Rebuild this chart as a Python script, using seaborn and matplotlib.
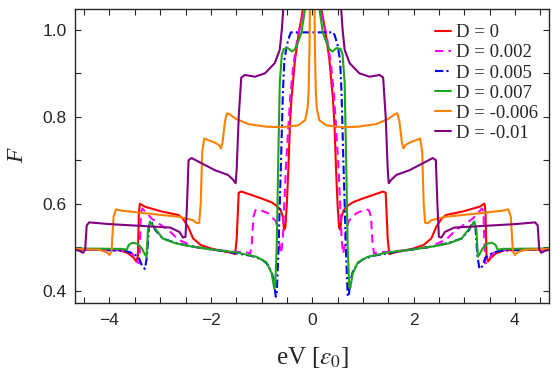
import matplotlib
matplotlib.use("Agg")
import matplotlib.pyplot as plt
import seaborn as sns
import pandas as pd
from matplotlib.ticker import MultipleLocator

sns.set_style("ticks")
plt.rcParams["font.family"] = ["Liberation Sans", "DejaVu Sans"]
plt.rcParams["mathtext.fontset"] = "stix"

# -------------------------------------------------------------
# Data: eV >= 0 half of each curve
# (the curves are mirror symmetric about eV = 0)
# -------------------------------------------------------------
red_x = [0, 0.18, 0.28, 0.34, 0.41, 0.44, 0.47, 0.50, 0.53, 0.555, 0.58, 0.62, 0.7, 0.8, 1.0,
         1.2, 1.40, 1.45, 1.49, 1.52, 1.6, 1.8, 2.0, 2.2, 2.35, 2.45, 2.55, 2.64, 2.97, 3.30,
         3.40, 3.42, 3.44, 3.47, 3.52, 3.63, 3.8, 4.7]
red_y = [1.40, 1.05, 0.98, 0.93, 0.84, 0.78, 0.68, 0.60, 0.545, 0.54, 0.57, 0.585, 0.595, 0.603,
         0.612, 0.62, 0.628, 0.625, 0.52, 0.484, 0.487, 0.492, 0.497, 0.505, 0.52, 0.547, 0.565,
         0.574, 0.582, 0.593, 0.60, 0.58, 0.48, 0.467, 0.475, 0.486, 0.493, 0.495]

mag_x = [0, 0.15, 0.28, 0.37, 0.43, 0.48, 0.52, 0.55, 0.58, 0.61, 0.64, 0.67, 0.72, 0.87, 1.06,
         1.12, 1.16, 1.19, 1.22, 1.3, 1.6, 2.0, 2.3, 2.64, 2.84, 3.0, 3.17, 3.35, 3.38, 3.41,
         3.45, 3.55, 3.7, 4.7]
mag_y = [1.40, 1.05, 0.99, 0.92, 0.85, 0.76, 0.68, 0.60, 0.52, 0.485, 0.50, 0.54, 0.56, 0.578,
         0.587, 0.585, 0.57, 0.51, 0.486, 0.488, 0.49, 0.495, 0.50, 0.517, 0.54, 0.552, 0.566,
         0.589, 0.58, 0.463, 0.465, 0.485, 0.493, 0.495]

blue_x = [0, 0.42, 0.45, 0.50, 0.55, 0.58, 0.61, 0.64, 0.67, 0.70, 0.72, 0.75, 0.8, 0.9, 1.0,
          1.2, 1.6, 2.0, 2.4, 2.7, 2.95, 3.1, 3.17, 3.22, 3.26, 3.30, 3.35, 3.43, 3.55, 3.7, 4.7]
blue_y = [0.994, 0.994, 0.985, 0.965, 0.93, 0.85, 0.72, 0.60, 0.48, 0.39, 0.386, 0.42, 0.443,
          0.463, 0.472, 0.48, 0.488, 0.495, 0.502, 0.51, 0.52, 0.54, 0.558, 0.55, 0.48, 0.45,
          0.455, 0.478, 0.486, 0.492, 0.495]

green_x = [0, 0.14, 0.21, 0.28, 0.34, 0.40, 0.48, 0.56, 0.60, 0.64, 0.67, 0.70, 0.73, 0.75, 0.8,
           0.9, 1.1, 1.5, 2.0, 2.4, 2.7, 2.95, 3.1, 3.2, 3.24, 3.27, 3.31, 3.36, 3.45, 3.55,
           3.62, 3.66, 3.75, 4.7]
green_y = [1.40, 1.05, 0.994, 0.971, 0.955, 0.950, 0.958, 0.956, 0.943, 0.878, 0.70, 0.50, 0.41,
           0.405, 0.44, 0.465, 0.478, 0.488, 0.495, 0.502, 0.509, 0.52, 0.543, 0.559, 0.54,
           0.478, 0.485, 0.497, 0.508, 0.51, 0.505, 0.494, 0.496, 0.497]

orange_x = [0, 0.045, 0.055, 0.07, 0.09, 0.14, 0.28, 0.6, 0.9, 1.26, 1.52, 1.62, 1.68, 1.72,
            1.77, 1.80, 1.84, 1.95, 2.05, 2.13, 2.17, 2.20, 2.23, 2.28, 2.35, 2.64, 3.3, 3.76,
            3.87, 3.92, 3.96, 4.0, 4.05, 4.2, 4.7]
orange_y = [1.40, 1.05, 0.95, 0.86, 0.82, 0.792, 0.78, 0.776, 0.777, 0.783, 0.796, 0.805, 0.808,
            0.79, 0.74, 0.727, 0.735, 0.742, 0.746, 0.75, 0.72, 0.60, 0.556, 0.555, 0.562, 0.57,
            0.578, 0.584, 0.587, 0.57, 0.49, 0.482, 0.488, 0.494, 0.496]

purple_x = [0, 0.5, 0.57, 0.6, 0.64, 0.74, 0.93, 1.13, 1.33, 1.40, 1.45, 1.49, 1.51, 1.56, 1.66,
            1.92, 2.25, 2.38, 2.44, 2.47, 2.50, 2.55, 2.62, 2.8, 3.4, 4.0, 4.40, 4.45, 4.48,
            4.52, 4.6, 4.7]
purple_y = [1.40, 1.20, 1.05, 1.0, 0.954, 0.923, 0.90, 0.892, 0.896, 0.89, 0.80, 0.68, 0.647,
            0.655, 0.666, 0.677, 0.697, 0.705, 0.70, 0.60, 0.524, 0.522, 0.535, 0.545, 0.549,
            0.553, 0.557, 0.55, 0.495, 0.487, 0.492, 0.494]

labels = ["D = 0", "D = 0.002", "D = 0.005", "D = 0.007", "D = -0.006", "D = -0.01"]
halves = [(red_x, red_y), (mag_x, mag_y), (blue_x, blue_y),
          (green_x, green_y), (orange_x, orange_y), (purple_x, purple_y)]
colors = ["#ff0000", "#ff00ff", "#0000ff", "#1ea51e", "#ff8000", "#800080"]
styles = ["-", (0, (4, 2.5)), (0, (4, 1.5, 1, 1.5)), "-", "-", "-"]


def mirror(xs, ys):
    """Build the full curve from its eV >= 0 half."""
    full_x = [-v for v in reversed(xs[1:])] + list(xs)
    full_y = list(reversed(ys[1:])) + list(ys)
    return full_x, full_y


fig = plt.figure(figsize=(5.6, 3.73), dpi=100)
ax = fig.add_axes([0.134, 0.187, 0.847, 0.788])

for (hx, hy), lab, col, ls in zip(halves, labels, colors, styles):
    fx, fy = mirror(hx, hy)
    df = pd.DataFrame({"eV": fx, "F": fy})
    sns.lineplot(data=df, x="eV", y="F", ax=ax, color=col, linestyle=ls,
                 linewidth=1.5, label=lab, sort=False, estimator=None)

ax.set_xlim(-4.68, 4.68)
ax.set_ylim(0.371, 1.047)
ax.xaxis.set_major_locator(MultipleLocator(2))
ax.xaxis.set_minor_locator(MultipleLocator(0.5))
ax.yaxis.set_major_locator(MultipleLocator(0.2))
ax.yaxis.set_minor_locator(MultipleLocator(0.1))
ax.tick_params(which="both", direction="in", top=True, right=True,
               length=4, width=0.8, labelsize=12.5)
ax.tick_params(axis="x", pad=7)
ax.tick_params(axis="y", pad=6)
for sp in ax.spines.values():
    sp.set_linewidth(1.0)

ax.set_xlabel(r"eV [$\epsilon_0$]", family="Liberation Serif", fontsize=18, labelpad=12)
ax.set_ylabel("F", family="Liberation Serif", style="italic", fontsize=17, labelpad=10)

ax.legend(loc="upper left", bbox_to_anchor=(0.752, 0.962), frameon=False,
          prop={"family": "Liberation Serif", "size": 13.5}, labelspacing=0.16,
          handlelength=0.85, handletextpad=0.25, borderpad=0.2, borderaxespad=0)

fig.savefig("out.png", dpi=100)
